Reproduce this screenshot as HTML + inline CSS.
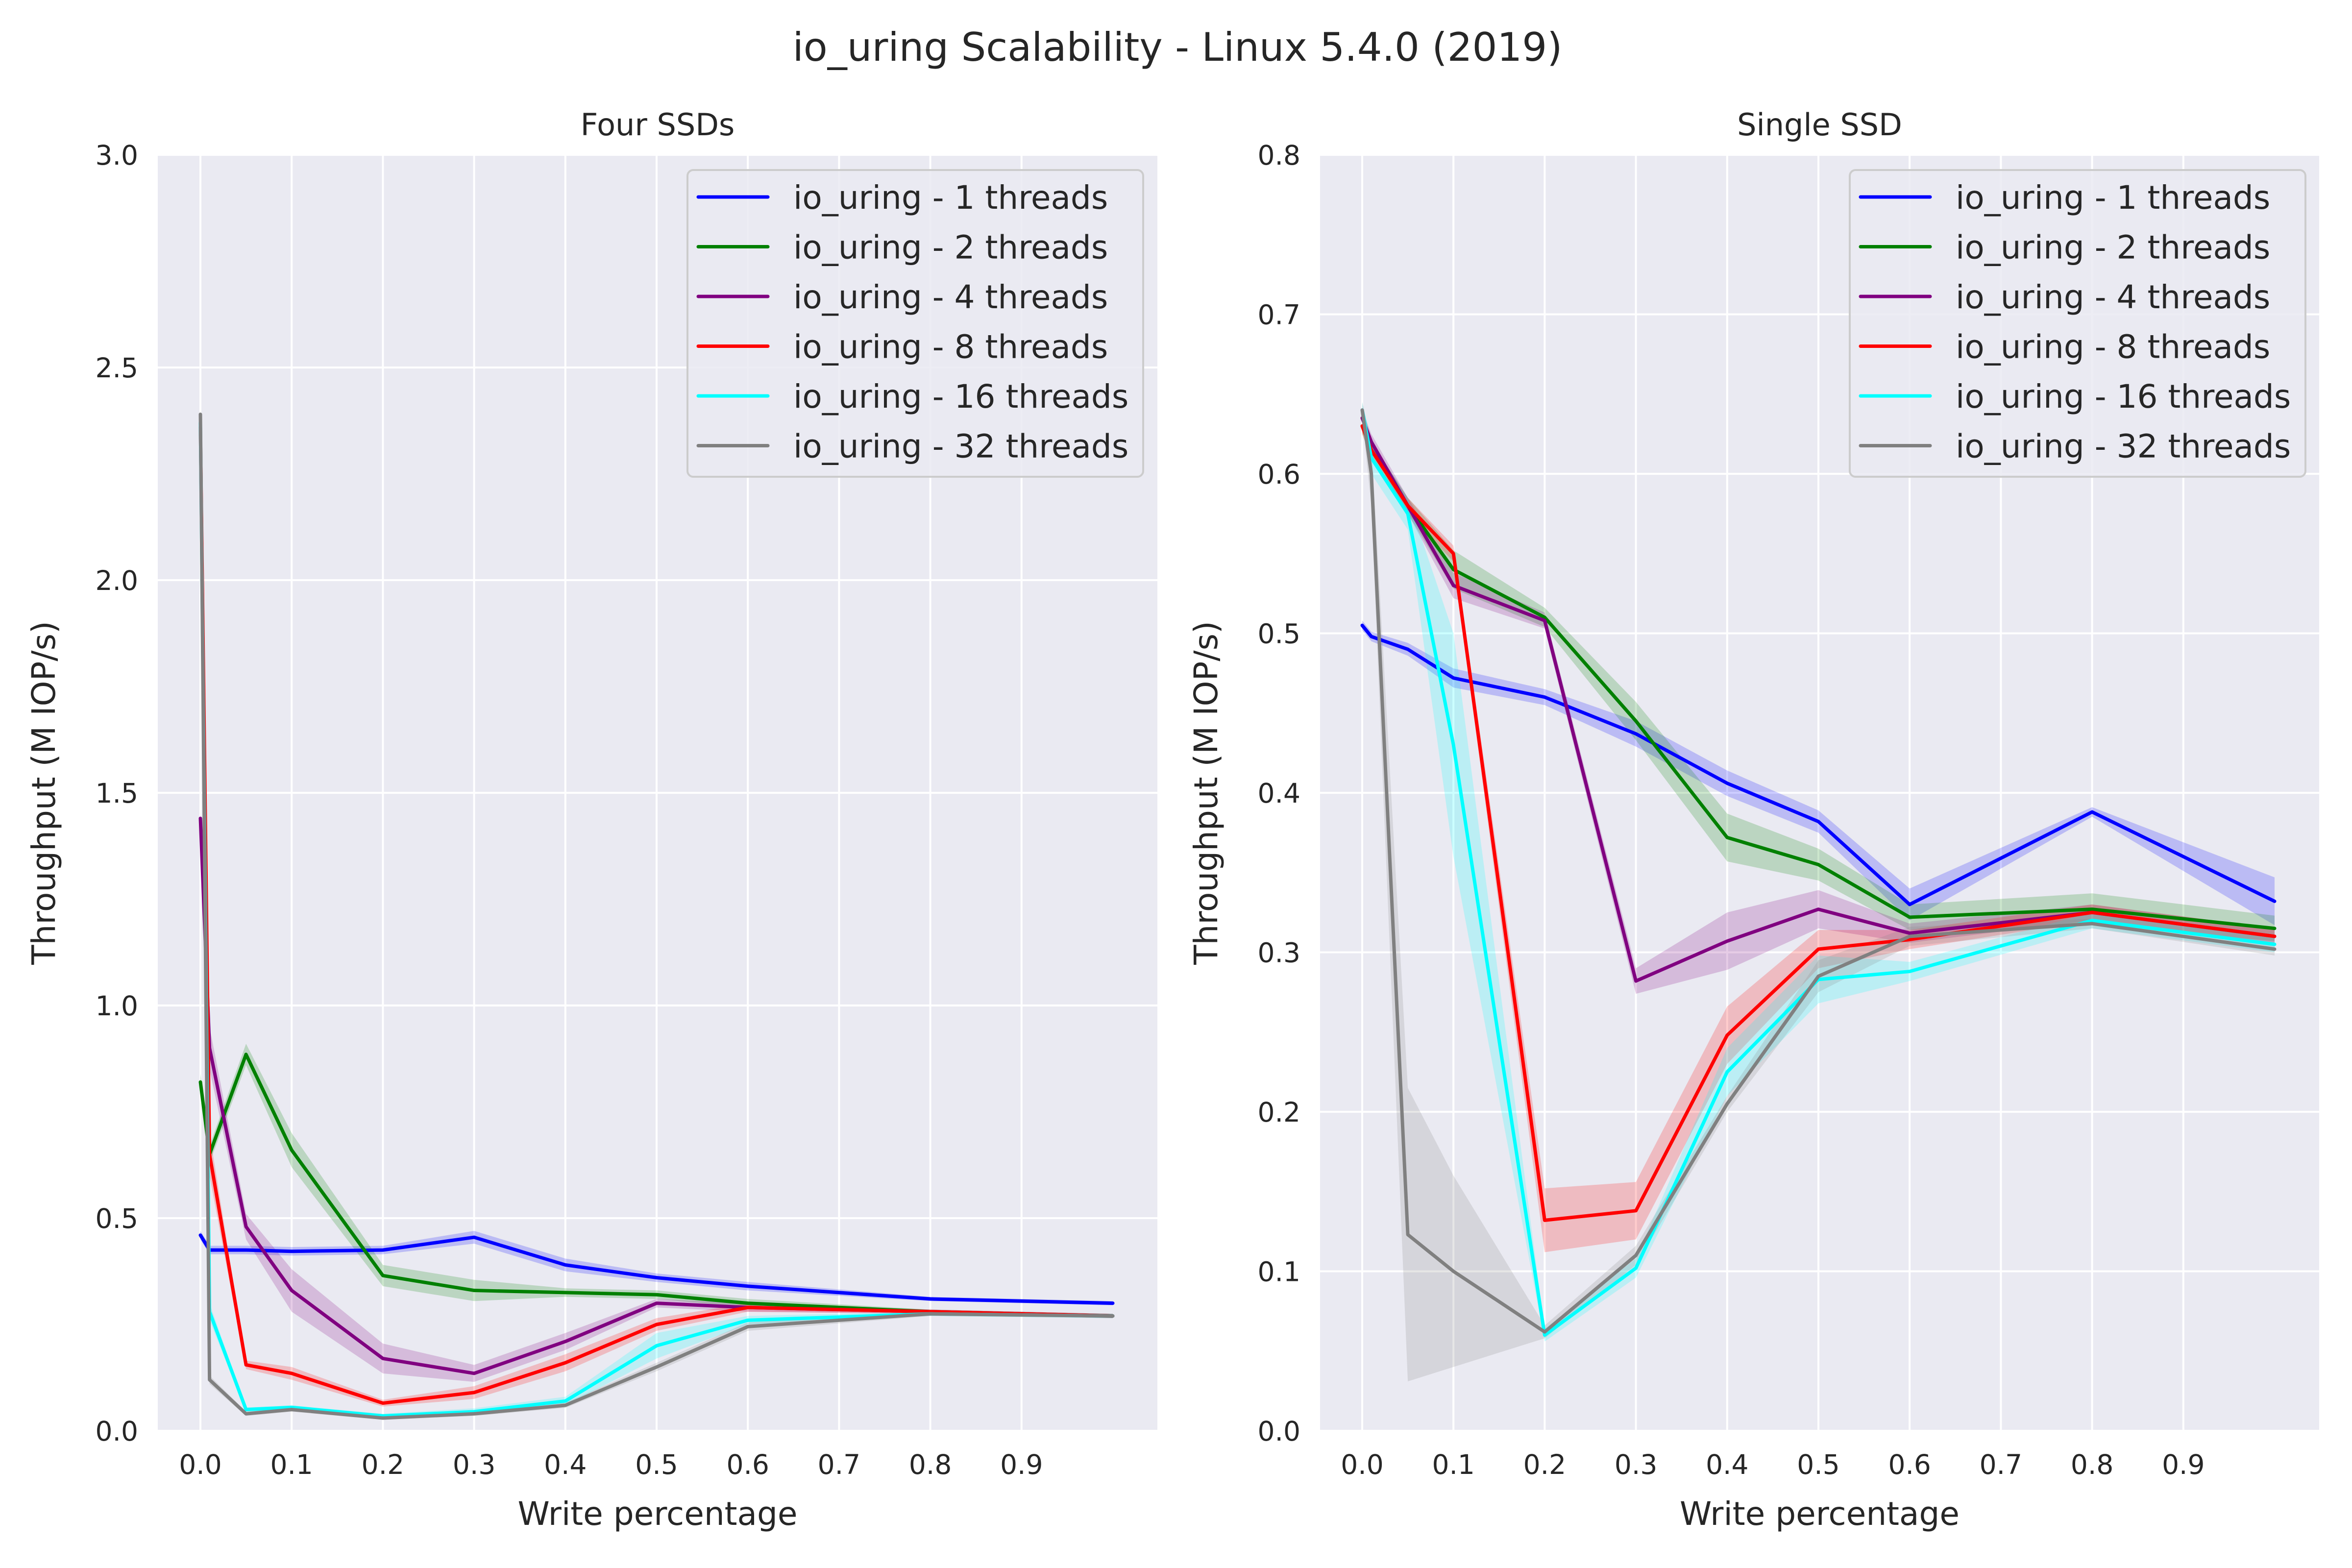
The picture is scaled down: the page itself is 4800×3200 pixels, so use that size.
<!DOCTYPE html>
<html><head><meta charset="utf-8"><style>
html,body{margin:0;padding:0;background:#fff;}
svg{display:block;font-family:"DejaVu Sans","Liberation Sans",sans-serif;}
</style></head><body>
<svg id="chart" width="4800" height="3200" viewBox="0 0 4800 3200" xmlns="http://www.w3.org/2000/svg">
<text x="2403" y="124" font-size="80" text-anchor="middle" fill="#262626">io_uring Scalability - Linux 5.4.0 (2019)</text>
</svg>
<script>
const xValues = [0, 0.01, 0.05, 0.1, 0.2, 0.3, 0.4, 0.5, 0.6, 0.8, 1.0];
const xTicks = [0, 0.1, 0.2, 0.3, 0.4, 0.5, 0.6, 0.7, 0.8, 0.9];
const xTickLabels = ["0.0","0.1","0.2","0.3","0.4","0.5","0.6","0.7","0.8","0.9"];
const seriesNames = ["io_uring - 1 threads","io_uring - 2 threads","io_uring - 4 threads","io_uring - 8 threads","io_uring - 16 threads","io_uring - 32 threads"];
const seriesColors = ["#0000ff","#008000","#800080","#ff0000","#00ffff","#808080"];

const leftYTicks = [0, 0.5, 1.0, 1.5, 2.0, 2.5, 3.0];
const leftYTickLabels = ["0.0","0.5","1.0","1.5","2.0","2.5","3.0"];
const leftT1 = [0.46,0.425,0.425,0.422,0.425,0.455,0.39,0.36,0.34,0.31,0.30];
const leftT2 = [0.82,0.65,0.885,0.66,0.365,0.33,0.325,0.32,0.30,0.28,0.27];
const leftT4 = [1.44,0.9,0.48,0.33,0.17,0.135,0.21,0.30,0.29,0.28,0.27];
const leftT8 = [2.36,0.65,0.155,0.135,0.065,0.09,0.16,0.25,0.29,0.28,0.27];
const leftT16 = [2.37,0.28,0.05,0.055,0.035,0.045,0.07,0.20,0.26,0.275,0.27];
const leftT32 = [2.39,0.12,0.04,0.05,0.03,0.04,0.06,0.15,0.245,0.275,0.27];
const leftE1 = [0.01,0.01,0.01,0.01,0.01,0.015,0.015,0.01,0.01,0.005,0.005];
const leftE2 = [0.02,0.02,0.025,0.04,0.025,0.025,0.01,0.01,0.01,0.005,0.005];
const leftE4 = [0.02,0.05,0.03,0.05,0.035,0.02,0.02,0.01,0.01,0.005,0.005];
const leftE8 = [0.03,0.05,0.01,0.015,0.008,0.015,0.02,0.015,0.01,0.005,0.005];
const leftE16 = [0.03,0.02,0.005,0.005,0.005,0.008,0.01,0.03,0.01,0.005,0.005];
const leftE32 = [0.03,0.01,0.005,0.005,0.004,0.005,0.006,0.01,0.01,0.005,0.005];

const rightYTicks = [0,0.1,0.2,0.3,0.4,0.5,0.6,0.7,0.8];
const rightYTickLabels = ["0.0","0.1","0.2","0.3","0.4","0.5","0.6","0.7","0.8"];
const rightT1 = [0.505,0.498,0.49,0.472,0.46,0.437,0.406,0.382,0.33,0.388,0.332];
const rightT2 = [0.63,0.615,0.58,0.54,0.51,0.445,0.372,0.355,0.322,0.327,0.315];
const rightT4 = [0.635,0.62,0.58,0.53,0.508,0.282,0.307,0.327,0.312,0.325,0.31];
const rightT8 = [0.63,0.615,0.58,0.55,0.132,0.138,0.248,0.302,0.308,0.325,0.31];
const rightT16 = [0.64,0.61,0.575,0.43,0.06,0.102,0.225,0.283,0.288,0.32,0.305];
const rightT32 = [0.64,0.60,0.123,0.10,0.062,0.11,0.205,0.285,0.31,0.318,0.302];
const rightE1 = [0.003,0.003,0.004,0.006,0.005,0.008,0.008,0.007,0.01,0.003,0.015];
const rightE2 = [0.005,0.005,0.005,0.012,0.006,0.012,0.015,0.01,0.008,0.01,0.008];
const rightE4 = [0.005,0.005,0.005,0.008,0.005,0.008,0.018,0.012,0.006,0.005,0.005];
const rightE8 = [0.005,0.005,0.005,0.005,0.02,0.018,0.018,0.012,0.006,0.005,0.005];
const rightE16 = [0.005,0.01,0.01,0.07,0.004,0.006,0.015,0.015,0.006,0.005,0.005];
const rightE32 = [0.005,0.02,0.092,0.06,0.004,0.006,0.005,0.01,0.006,0.003,0.004];

const NS = "http://www.w3.org/2000/svg";
const svg = document.getElementById('chart');
function mk(tag, attrs, parent){const e=document.createElementNS(NS,tag);for(const k in attrs)e.setAttribute(k,attrs[k]);(parent||svg).appendChild(e);return e;}

function panel(cfg){
  const g = mk('g',{});
  
  
  const L=cfg.left,R=cfg.right,T=316,B=2920;
  const xs = v => cfg.x0 + v*1862;
  const ys = v => B - (v/cfg.ymax)*(B-T);
  const bg = mk('rect',{x:L,y:T,width:R-L,height:B-T,fill:'#eaeaf2'},g);
  
  
  cfg.yTicks.forEach((t,i)=>{
    const gl = mk('line',{x1:L,x2:R,y1:ys(t),y2:ys(t),stroke:'#fff','stroke-width':4},g);
    
    
    const tl = mk('text',{x:L-40,y:ys(t)+20,'font-size':55,'text-anchor':'end',fill:'#262626'},g);
    
    
    tl.textContent = cfg.yLabels[i];
  });
  xTicks.forEach((t,i)=>{
    const gl = mk('line',{x1:xs(t),x2:xs(t),y1:T,y2:B,stroke:'#fff','stroke-width':4},g);
    
    
    const tl = mk('text',{x:xs(t),y:B+88,'font-size':55,'text-anchor':'middle',fill:'#262626'},g);
    
    
    tl.textContent = xTickLabels[i];
  });
  cfg.series.forEach((s,si)=>{
    const up = xValues.map((x,i)=>xs(x)+','+ys(s[i]+cfg.err[si][i]));
    const dn = xValues.map((x,i)=>xs(x)+','+ys(s[i]-cfg.err[si][i])).reverse();
    const band = mk('polygon',{points:up.concat(dn).join(' '),fill:seriesColors[si],'fill-opacity':0.2,stroke:'none'},g);
    
    
  });
  cfg.series.forEach((s,si)=>{
    const pts = xValues.map((x,i)=>xs(x)+','+ys(s[i])).join(' ');
    const ln = mk('polyline',{points:pts,fill:'none',stroke:seriesColors[si],'stroke-width':7,'stroke-linejoin':'round','stroke-linecap':'round'},g);
    
    
  });
  const st = mk('text',{x:(L+R)/2,y:276,'font-size':62,'text-anchor':'middle',fill:'#262626'},g);
  
  
  st.textContent = cfg.title;
  const xl = mk('text',{x:(L+R)/2,y:3112,'font-size':66,'text-anchor':'middle',fill:'#262626'},g);
  
  
  xl.textContent = 'Write percentage';
  const yl = mk('text',{x:0,y:0,'font-size':66,'text-anchor':'middle',fill:'#262626',transform:'translate('+(L-210)+','+((T+B)/2)+') rotate(-90)'},g);
  
  
  yl.textContent = 'Throughput (M IOP/s)';
  const lg = mk('g',{},g);
  
  
  const lx = cfg.legendX;
  mk('rect',{x:lx,y:347,width:930,height:626,rx:12,fill:'#eaeaf2','fill-opacity':0.85,stroke:'#cccccc','stroke-width':4},lg);
  seriesNames.forEach((n,i)=>{
    const cy = 402 + i*101.5;
    const e = mk('g',{},lg);
    
    
    mk('line',{x1:lx+22,x2:lx+164,y1:cy,y2:cy,stroke:seriesColors[i],'stroke-width':7,'stroke-linecap':'round'},e);
    const t = mk('text',{x:lx+216,y:cy+24,'font-size':66,fill:'#262626'},e);
    t.textContent = n;
  });
}
panel({name:'four-ssds-panel',title:'Four SSDs',left:322,right:2362,x0:409,ymax:3.0,yTicks:leftYTicks,yLabels:leftYTickLabels,
  series:[leftT1,leftT2,leftT4,leftT8,leftT16,leftT32],err:[leftE1,leftE2,leftE4,leftE8,leftE16,leftE32],legendX:1403});
panel({name:'single-ssd-panel',title:'Single SSD',left:2694,right:4733,x0:2780,ymax:0.8,yTicks:rightYTicks,yLabels:rightYTickLabels,
  series:[rightT1,rightT2,rightT4,rightT8,rightT16,rightT32],err:[rightE1,rightE2,rightE4,rightE8,rightE16,rightE32],legendX:3775});
</script>
</body></html>
